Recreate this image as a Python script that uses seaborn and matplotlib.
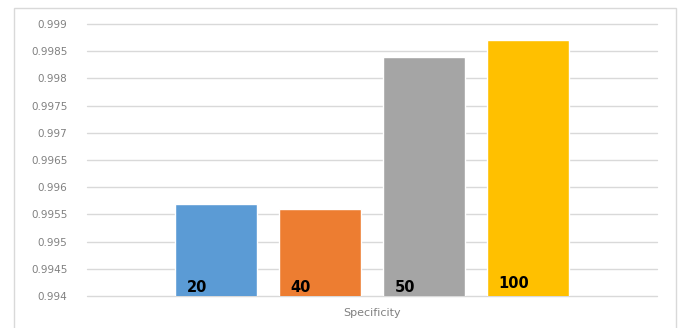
import matplotlib
matplotlib.use("Agg")
import matplotlib.pyplot as plt
import matplotlib.ticker as mticker
from matplotlib.patches import Rectangle
import seaborn as sns
import pandas as pd

categories = ["Specificity"] * 4
series = ["20", "40", "50", "100"]
values = [0.9957, 0.9956, 0.9984, 0.9987]
colors = ["#5b9bd5", "#ed7d31", "#a5a5a5", "#ffc000"]

df = pd.DataFrame({"metric": categories, "size": series, "value": values})

sns.set_theme(style="white")
plt.rcParams["font.family"] = ["DejaVu Sans"]

fig = plt.figure(figsize=(6.78, 3.28), dpi=100)
ax = fig.add_axes([87 / 678, 1 - 296 / 328, (657 - 87) / 678, (296 - 24) / 328])

sns.barplot(data=df, x="metric", y="value", hue="size", hue_order=series,
            palette=colors, width=0.728, gap=0.21, legend=False, ax=ax,
            saturation=1)

ax.set_ylim(0.994, 0.999)
ax.set_xlim(-0.5, 0.5)
ax.yaxis.set_major_locator(mticker.MultipleLocator(0.0005))
ax.yaxis.set_major_formatter(mticker.FuncFormatter(lambda v, p: f"{v:.5g}"))
ax.grid(axis="y", color="#d9d9d9", linewidth=1)
for gl in ax.get_ygridlines():
    gl.set_clip_on(False)
ax.set_axisbelow(True)
for s in ax.spines.values():
    s.set_visible(False)
ax.tick_params(axis="y", length=0, pad=14, labelsize=7.5, labelcolor="#808080")
ax.tick_params(axis="x", length=0, pad=9, labelsize=8, labelcolor="#808080")
ax.set_xlabel("")
ax.set_ylabel("")

offsets = [0.0, 0.0, 0.0, 0.00008]
for patch, lab, off in zip(ax.patches, series, offsets):
    x0 = patch.get_x()
    w = patch.get_width()
    ax.text(x0 + w * 0.14, 0.994 + 0.00002 + off, lab, fontsize=10.5,
            fontweight="bold", color="black", family="DejaVu Sans",
            ha="left", va="bottom")

fig.patches.append(Rectangle((14 / 678, -0.05), (676 - 14) / 678, 1 - 8 / 328 + 0.05,
                             transform=fig.transFigure, fill=False,
                             edgecolor="#d9d9d9", linewidth=1))

fig.savefig("out.png", dpi=100)
